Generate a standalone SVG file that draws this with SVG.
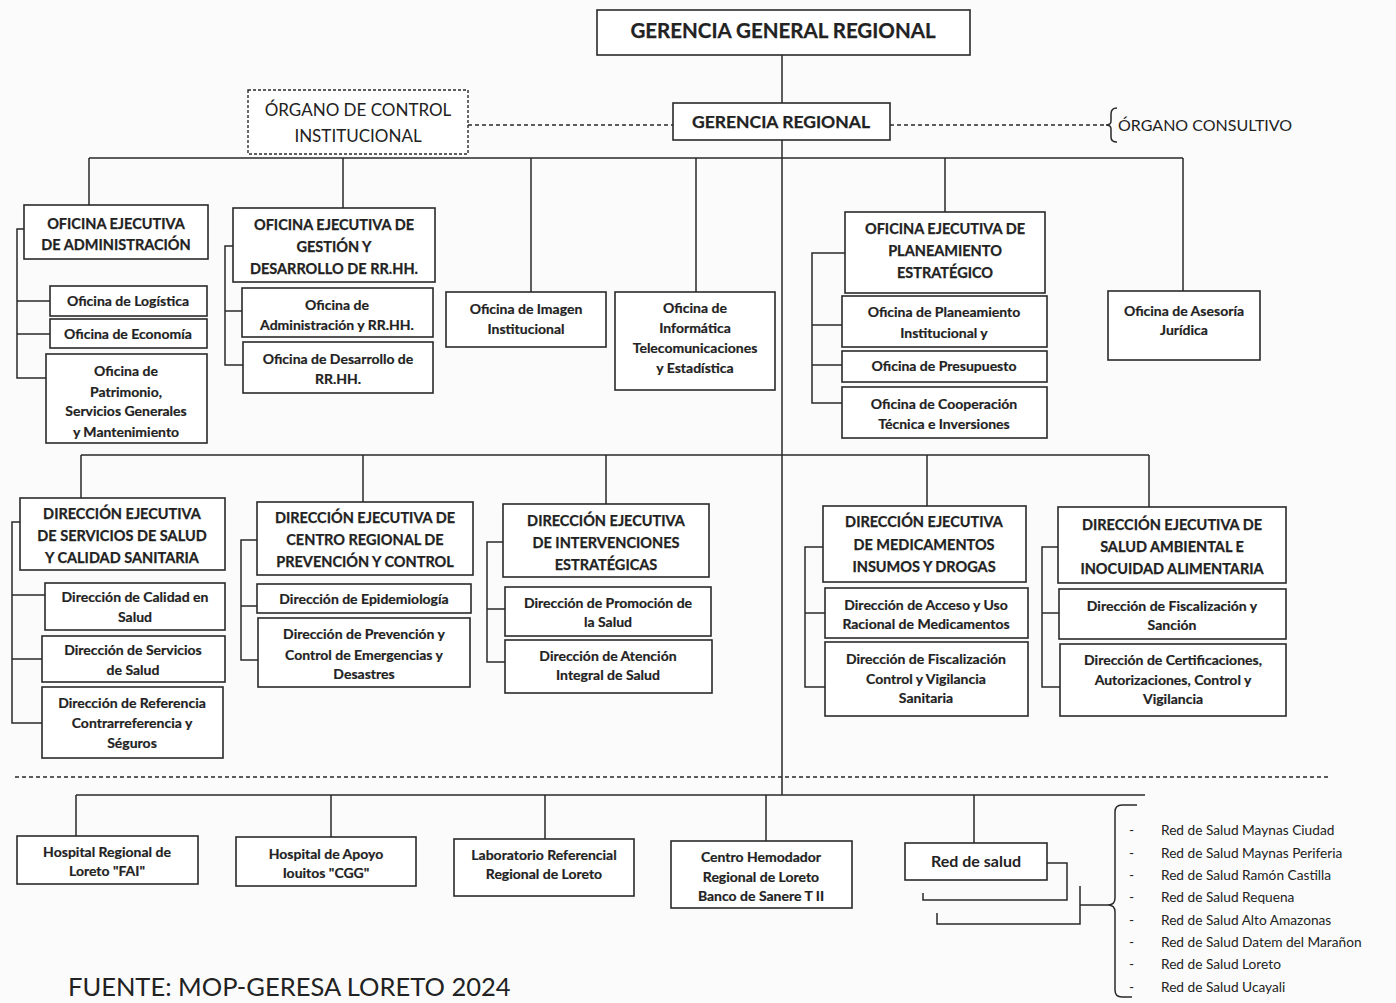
<svg xmlns="http://www.w3.org/2000/svg" width="1396" height="1003" viewBox="0 0 1396 1003">
<style>
.bx{fill:#fff;stroke:#2a2a2a;stroke-width:1.6}
.dbx{fill:#fff;stroke:#2a2a2a;stroke-width:1.4;stroke-dasharray:3 2}
.ln{fill:none;stroke:#2a2a2a;stroke-width:1.5}
.dl{fill:none;stroke:#2a2a2a;stroke-width:1.4;stroke-dasharray:4 3}
text{font-family:Lato,"Liberation Sans",sans-serif;fill:#222;text-anchor:middle}
.h{font-size:14.5px;font-weight:bold;stroke:#222;stroke-width:0.25}
.t{font-size:14px;font-weight:bold;stroke:#222;stroke-width:0.2}
.big{font-size:20.5px;font-weight:bold;stroke:#222;stroke-width:0.25}
.mid{font-size:17.5px;font-weight:bold;stroke:#222;stroke-width:0.25}
.reg{font-size:17px}
.li{font-size:13.7px;text-anchor:start}
</style>
<rect width="1396" height="1003" fill="#fbfbfb"/>
<g id="connectors">
<path class="ln" d="M782,55V103M782,140V795"/>
<path class="dl" d="M468,125H673M890,125H1106"/>
<path class="ln" d="M1117,108Q1111,108 1111,114V121Q1111,125 1106,125Q1111,125 1111,129V137Q1111,142 1117,142"/>
<path class="ln" d="M89,158H1183M89,158V205M343,158V208M531,158V292M696,158V292M945,158V212M1183,158V291"/>
<path class="ln" d="M24,229H17V378H46M17,301H50M17,334H50"/>
<path class="ln" d="M233,246H225V365H243M225,311H242"/>
<path class="ln" d="M845,253H812V403H842M812,325H842M812,365H842"/>
<path class="ln" d="M81,455H1149M81,455V498M363,455V502M606,455V504M927,455V506M1149,455V507"/>
<path class="ln" d="M20,522H12V723H42M12,595H45M12,659H42"/>
<path class="ln" d="M257,540H241V660H258M241,606H257"/>
<path class="ln" d="M503,542H487V662H505M487,609H505"/>
<path class="ln" d="M823,547H805V687H825M805,613H825"/>
<path class="ln" d="M1058,547H1042V687H1060M1042,613H1059"/>
<path class="dl" d="M15,777H1330" stroke-dasharray="3 2.5"/>
<path class="ln" d="M76,795H1145M76,795V836M331,795V837M545,795V839M766,795V841M974,795V843"/>
<path class="ln" d="M1047,863H1067V900H923V893M1080,886V924H937V913M1080,905H1108"/>
<path class="ln" d="M1137,805H1122Q1115,805 1115,812V898Q1115,905 1108,905Q1115,905 1115,912V990Q1115,997 1122,997H1132"/>
</g>
<g id="ggr"><rect class="bx" x="597" y="10" width="373" height="45"/><text class="big" x="783" y="38">GERENCIA GENERAL REGIONAL</text></g>
<g id="gr"><rect class="bx" x="673" y="103" width="217" height="37"/><text class="mid" x="781" y="128">GERENCIA REGIONAL</text></g>
<g id="oci"><rect class="dbx" x="248" y="90" width="220" height="64"/><text class="reg" x="358" y="116">ÓRGANO DE CONTROL</text><text class="reg" x="358" y="142">INSTITUCIONAL</text></g>
<g id="consultivo"><text style="font-size:16px;text-anchor:start" x="1118" y="131">ÓRGANO CONSULTIVO</text></g>
<g id="oea"><rect class="bx" x="24" y="205" width="184" height="54"/><text class="h" x="116" y="229">OFICINA EJECUTIVA</text><text class="h" x="116" y="250">DE ADMINISTRACIÓN</text></g>
<g id="logistica"><rect class="bx" x="50" y="286" width="157" height="30"/><text class="t" x="128" y="306">Oficina de Logística</text></g>
<g id="economia"><rect class="bx" x="50" y="319" width="157" height="29"/><text class="t" x="128" y="339">Oficina de Economía</text></g>
<g id="patrimonio"><rect class="bx" x="46" y="354" width="161" height="89"/><text class="t" x="126" y="376">Oficina de</text><text class="t" x="126" y="397">Patrimonio,</text><text class="t" x="126" y="416">Servicios Generales</text><text class="t" x="126" y="437">y Mantenimiento</text></g>
<g id="oegd"><rect class="bx" x="233" y="208" width="202" height="74"/><text class="h" x="334" y="230">OFICINA EJECUTIVA DE</text><text class="h" x="334" y="252">GESTIÓN Y</text><text class="h" x="334" y="274">DESARROLLO DE RR.HH.</text></g>
<g id="adminrrhh"><rect class="bx" x="242" y="288" width="191" height="49"/><text class="t" x="337" y="310">Oficina de</text><text class="t" x="337" y="330">Administración y RR.HH.</text></g>
<g id="desarrollo"><rect class="bx" x="243" y="342" width="190" height="51"/><text class="t" x="338" y="364">Oficina de Desarrollo de</text><text class="t" x="338" y="384">RR.HH.</text></g>
<g id="imagen"><rect class="bx" x="446" y="292" width="160" height="55"/><text class="t" x="526" y="314">Oficina de Imagen</text><text class="t" x="526" y="334">Institucional</text></g>
<g id="informatica"><rect class="bx" x="615" y="292" width="160" height="98"/><text class="t" x="695" y="313">Oficina de</text><text class="t" x="695" y="333">Informática</text><text class="t" x="695" y="353">Telecomunicaciones</text><text class="t" x="695" y="373">y Estadística</text></g>
<g id="oepe"><rect class="bx" x="845" y="212" width="200" height="81"/><text class="h" x="945" y="234">OFICINA EJECUTIVA DE</text><text class="h" x="945" y="256">PLANEAMIENTO</text><text class="h" x="945" y="278">ESTRATÉGICO</text></g>
<g id="planinst"><rect class="bx" x="842" y="296" width="205" height="51"/><text class="t" x="944" y="317">Oficina de Planeamiento</text><text class="t" x="944" y="338">Institucional y</text></g>
<g id="presupuesto"><rect class="bx" x="842" y="351" width="205" height="31"/><text class="t" x="944" y="371">Oficina de Presupuesto</text></g>
<g id="cooperacion"><rect class="bx" x="842" y="387" width="205" height="51"/><text class="t" x="944" y="409">Oficina de Cooperación</text><text class="t" x="944" y="429">Técnica e Inversiones</text></g>
<g id="asesoria"><rect class="bx" x="1108" y="291" width="152" height="69"/><text class="t" x="1184" y="316">Oficina de Asesoría</text><text class="t" x="1184" y="335">Jurídica</text></g>
<g id="desscs"><rect class="bx" x="20" y="498" width="205" height="72"/><text class="h" x="122" y="519">DIRECCIÓN EJECUTIVA</text><text class="h" x="122" y="541">DE SERVICIOS DE SALUD</text><text class="h" x="122" y="563">Y CALIDAD SANITARIA</text></g>
<g id="calidad"><rect class="bx" x="45" y="583" width="180" height="47"/><text class="t" x="135" y="602">Dirección de Calidad en</text><text class="t" x="135" y="622">Salud</text></g>
<g id="servicios"><rect class="bx" x="42" y="636" width="183" height="46"/><text class="t" x="133" y="655">Dirección de Servicios</text><text class="t" x="133" y="675">de Salud</text></g>
<g id="referencia"><rect class="bx" x="42" y="687" width="181" height="71"/><text class="t" x="132" y="708">Dirección de Referencia</text><text class="t" x="132" y="728">Contrarreferencia y</text><text class="t" x="132" y="748">Séguros</text></g>
<g id="decrpc"><rect class="bx" x="257" y="502" width="216" height="73"/><text class="h" x="365" y="523">DIRECCIÓN EJECUTIVA DE</text><text class="h" x="365" y="545">CENTRO REGIONAL DE</text><text class="h" x="365" y="567">PREVENCIÓN Y CONTROL</text></g>
<g id="epidemiologia"><rect class="bx" x="257" y="584" width="214" height="29"/><text class="t" x="364" y="604">Dirección de Epidemiología</text></g>
<g id="prevencion"><rect class="bx" x="258" y="618" width="212" height="69"/><text class="t" x="364" y="639">Dirección de Prevención y</text><text class="t" x="364" y="660">Control de Emergencias y</text><text class="t" x="364" y="679">Desastres</text></g>
<g id="deie"><rect class="bx" x="503" y="504" width="206" height="73"/><text class="h" x="606" y="526">DIRECCIÓN EJECUTIVA</text><text class="h" x="606" y="548">DE INTERVENCIONES</text><text class="h" x="606" y="570">ESTRATÉGICAS</text></g>
<g id="promocion"><rect class="bx" x="505" y="587" width="206" height="49"/><text class="t" x="608" y="608">Dirección de Promoción de</text><text class="t" x="608" y="627">la Salud</text></g>
<g id="atencion"><rect class="bx" x="505" y="640" width="207" height="53"/><text class="t" x="608" y="661">Dirección de Atención</text><text class="t" x="608" y="680">Integral de Salud</text></g>
<g id="demid"><rect class="bx" x="823" y="506" width="203" height="76"/><text class="h" x="924" y="527">DIRECCIÓN EJECUTIVA</text><text class="h" x="924" y="550">DE MEDICAMENTOS</text><text class="h" x="924" y="572">INSUMOS Y DROGAS</text></g>
<g id="acceso"><rect class="bx" x="825" y="588" width="203" height="50"/><text class="t" x="926" y="610">Dirección de Acceso y Uso</text><text class="t" x="926" y="629">Racional de Medicamentos</text></g>
<g id="fiscalizacion"><rect class="bx" x="825" y="642" width="203" height="74"/><text class="t" x="926" y="664">Dirección de Fiscalización</text><text class="t" x="926" y="684">Control y Vigilancia</text><text class="t" x="926" y="703">Sanitaria</text></g>
<g id="desaia"><rect class="bx" x="1058" y="507" width="228" height="76"/><text class="h" x="1172" y="530">DIRECCIÓN EJECUTIVA DE</text><text class="h" x="1172" y="552">SALUD AMBIENTAL E</text><text class="h" x="1172" y="574">INOCUIDAD ALIMENTARIA</text></g>
<g id="fiscsancion"><rect class="bx" x="1059" y="589" width="227" height="50"/><text class="t" x="1172" y="611">Dirección de Fiscalización y</text><text class="t" x="1172" y="630">Sanción</text></g>
<g id="certificaciones"><rect class="bx" x="1060" y="644" width="226" height="72"/><text class="t" x="1173" y="665">Dirección de Certificaciones,</text><text class="t" x="1173" y="685">Autorizaciones, Control y</text><text class="t" x="1173" y="704">Vigilancia</text></g>
<g id="hrl"><rect class="bx" x="17" y="836" width="181" height="48"/><text class="t" x="107" y="857">Hospital Regional de</text><text class="t" x="107" y="876">Loreto "FAI"</text></g>
<g id="hai"><rect class="bx" x="236" y="837" width="180" height="49"/><text class="t" x="326" y="859">Hospital de Apoyo</text><text class="t" x="326" y="878">Iouitos "CGG"</text></g>
<g id="lab"><rect class="bx" x="454" y="839" width="180" height="57"/><text class="t" x="544" y="860">Laboratorio Referencial</text><text class="t" x="544" y="879">Regional de Loreto</text></g>
<g id="hemo"><rect class="bx" x="671" y="841" width="181" height="67"/><text class="t" x="761" y="862">Centro Hemodador</text><text class="t" x="761" y="882">Regional de Loreto</text><text class="t" x="761" y="901">Banco de Sanere T II</text></g>
<g id="red"><rect class="bx" x="905" y="843" width="142" height="37"/><text style="font-size:16px;font-weight:bold" x="976" y="867">Red de salud</text></g>
<g id="redlist">
<text class="li" x="1129" y="835">-</text><text class="li" x="1161" y="835">Red de Salud Maynas Ciudad</text>
<text class="li" x="1129" y="858">-</text><text class="li" x="1161" y="858">Red de Salud Maynas Periferia</text>
<text class="li" x="1129" y="880">-</text><text class="li" x="1161" y="880">Red de Salud Ramón Castilla</text>
<text class="li" x="1129" y="902">-</text><text class="li" x="1161" y="902">Red de Salud Requena</text>
<text class="li" x="1129" y="925">-</text><text class="li" x="1161" y="925">Red de Salud Alto Amazonas</text>
<text class="li" x="1129" y="947">-</text><text class="li" x="1161" y="947">Red de Salud Datem del Marañon</text>
<text class="li" x="1129" y="969">-</text><text class="li" x="1161" y="969">Red de Salud Loreto</text>
<text class="li" x="1129" y="992">-</text><text class="li" x="1161" y="992">Red de Salud Ucayali</text>
</g>
<g id="fuente"><text style="font-size:25.5px;text-anchor:start" x="68" y="996">FUENTE: MOP-GERESA LORETO 2024</text></g>
</svg>
